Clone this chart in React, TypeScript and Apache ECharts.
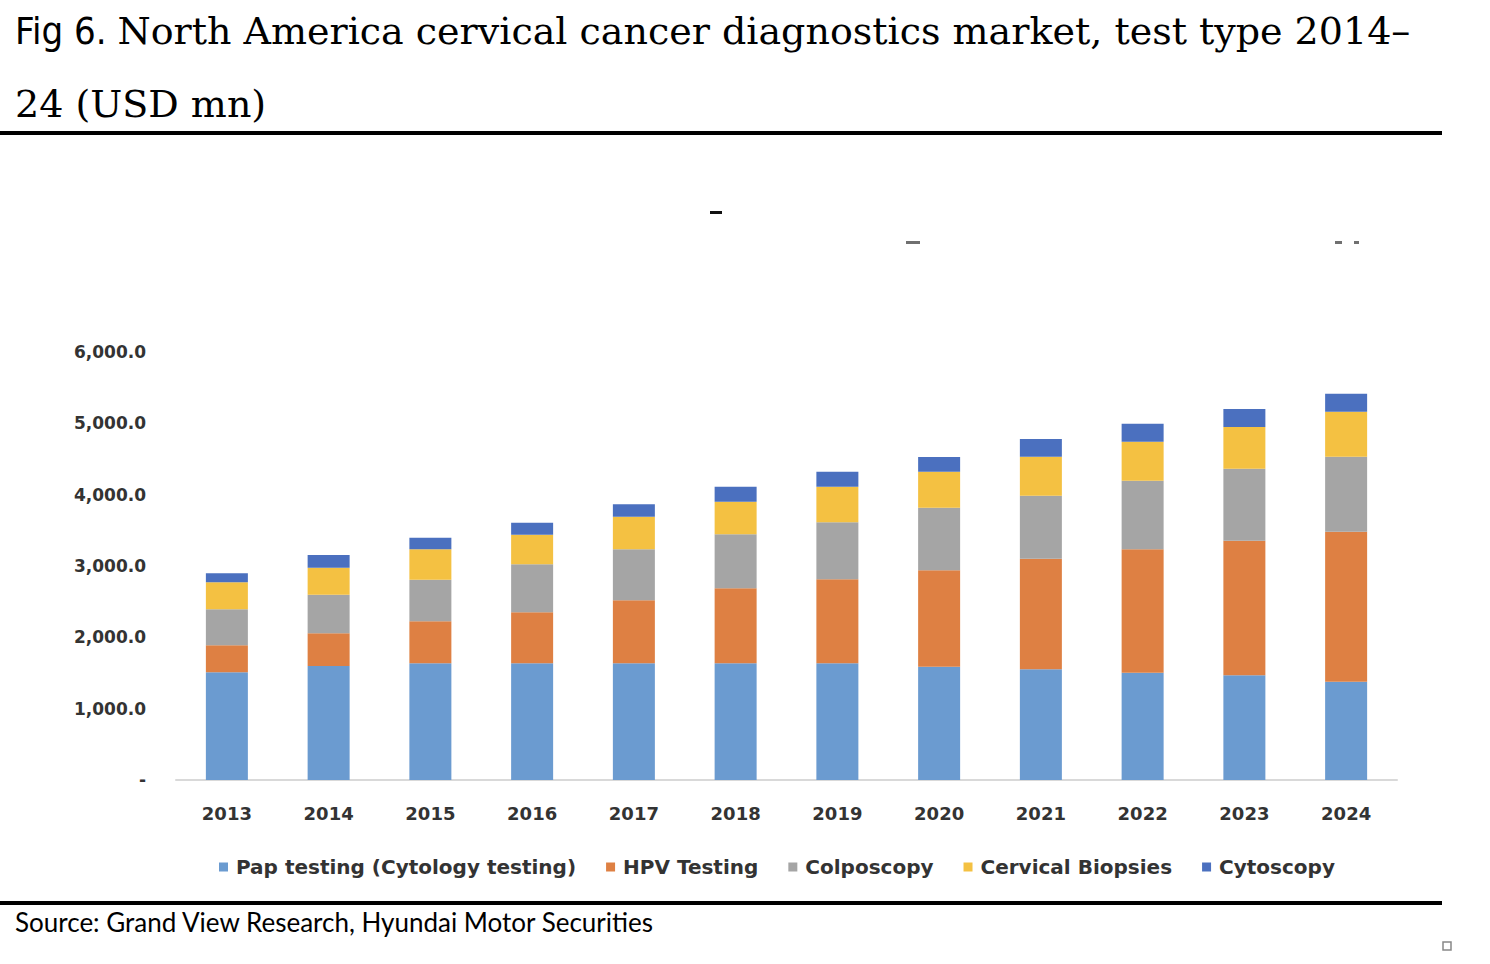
import React, { useEffect, useRef } from "react";
import * as echarts from "echarts";

const years = ["2013", "2014", "2015", "2016", "2017", "2018", "2019", "2020", "2021", "2022", "2023", "2024"];
const seriesNames = ["Pap testing (Cytology testing)", "HPV Testing", "Colposcopy", "Cervical Biopsies", "Cytoscopy"];
const papTesting = [1510, 1598, 1636, 1636, 1636, 1636, 1636, 1589, 1552, 1504, 1468, 1378];
const hpvTesting = [378, 459, 589, 715, 883, 1051, 1178, 1351, 1551, 1730, 1887, 2103];
const colposcopy = [505, 541, 583, 673, 715, 757, 799, 877, 883, 962, 1009, 1052];
const cervicalBiopsies = [379, 379, 426, 415, 457, 458, 499, 505, 547, 547, 585, 630];
const cytoscopy = [126, 177, 163, 168, 174, 210, 210, 206, 248, 252, 252, 253];
const colors = ["#6B9BD0", "#DE8043", "#A5A5A5", "#F4C142", "#4B70BF"];

const titlePrefix = "Fig 6. ";
const titleLine1 = "North America cervical cancer diagnostics market, test type 2014\u2013";
const titleLine2 = "24 (USD mn)";
const sourceText = "Source: Grand View Research, Hyundai Motor Securities";

export default function App() {
  const ref = useRef<HTMLDivElement>(null);
  useEffect(() => {
    if (!ref.current) return;
    const chart = echarts.init(ref.current, null, { renderer: "svg" });
    const values = [papTesting, hpvTesting, colposcopy, cervicalBiopsies, cytoscopy];
    const labelFont = { fontFamily: "DejaVu Sans", fontWeight: "bold" as const, color: "#333333" };
    chart.setOption({
      animation: false,
      backgroundColor: "#ffffff",
      grid: { left: 176, right: 93, top: 352, bottom: 184, containLabel: false },
      legend: {
        left: 214,
        top: 852,
        icon: "rect",
        itemWidth: 9,
        itemHeight: 9,
        itemGap: 30,
        textStyle: { ...labelFont, fontSize: 20, padding: [0, 0, 0, 3] },
        data: seriesNames,
      },
      xAxis: {
        type: "category",
        data: years,
        axisTick: { show: false },
        axisLine: { lineStyle: { color: "#D9D9D9", width: 2 } },
        axisLabel: { ...labelFont, fontSize: 18, margin: 24 },
      },
      yAxis: {
        type: "value",
        min: 0,
        max: 6000,
        interval: 1000,
        splitLine: { show: false },
        axisLine: { show: false },
        axisTick: { show: false },
        axisLabel: {
          ...labelFont,
          fontSize: 17,
          margin: 30,
          formatter: (v: number) =>
            v === 0 ? "-" : v.toLocaleString("en-US", { minimumFractionDigits: 1, maximumFractionDigits: 1 }),
        },
      },
      series: seriesNames.map((name, i) => ({
        name,
        type: "bar",
        stack: "total",
        barWidth: 42,
        itemStyle: { color: colors[i] },
        data: values[i],
      })),
      graphic: [
        {
          type: "text",
          left: 15,
          top: 12,
          style: {
            text: "{a|" + titlePrefix + "}{b|" + titleLine1 + "}",
            fill: "#000",
            rich: {
              a: { fontFamily: "'Liberation Sans Narrow', 'DejaVu Sans Condensed', sans-serif", fontSize: 38, fill: "#000" },
              b: { fontFamily: "'DejaVu Serif'", fontSize: 38, fill: "#000" },
            },
          },
        },
        { type: "text", left: 15, top: 85, style: { text: titleLine2, font: "38px 'DejaVu Serif'", fill: "#000" } },
        { type: "rect", shape: { x: 0, y: 131, width: 1442, height: 4 }, style: { fill: "#000" } },
        { type: "rect", shape: { x: 710, y: 211, width: 12, height: 3 }, style: { fill: "#111" } },
        { type: "rect", shape: { x: 906, y: 241, width: 14, height: 3 }, style: { fill: "#333", opacity: 0.7 } },
        { type: "rect", shape: { x: 1335, y: 241, width: 7, height: 3 }, style: { fill: "#333", opacity: 0.7 } },
        { type: "rect", shape: { x: 1354, y: 241, width: 5, height: 3 }, style: { fill: "#333", opacity: 0.7 } },
        { type: "rect", shape: { x: 0, y: 901, width: 1442, height: 4 }, style: { fill: "#000" } },
        { type: "text", left: 15, top: 909, style: { text: sourceText, font: "26px Lato", fill: "#000" } },
        { type: "rect", shape: { x: 1443, y: 942, width: 8, height: 8 }, style: { fill: "#fff", stroke: "#888", lineWidth: 1.5 } },
      ],
    });
    return () => chart.dispose();
  }, []);
  return (
    <div
      ref={ref}
      style={{ position: "fixed", left: 0, top: 0, width: 1490, height: 964, background: "#fff" }}
    />
  );
}
